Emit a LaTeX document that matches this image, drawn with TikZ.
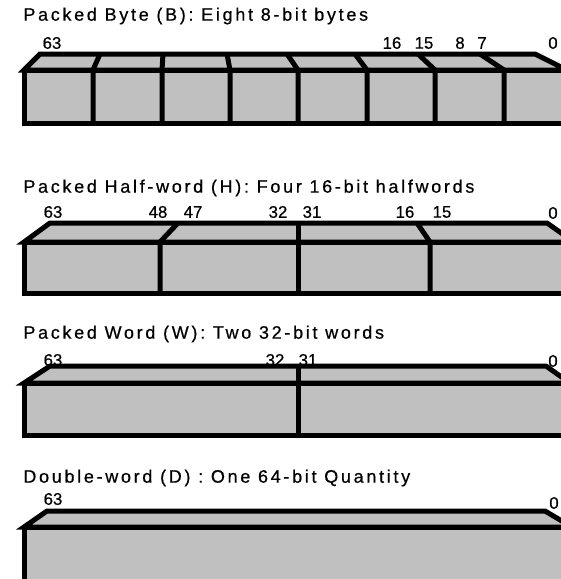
\documentclass[tikz,border=0pt]{standalone}
\usepackage{fontspec}
\setmainfont{Liberation Sans}
\newfontfamily\spacedfont[LetterSpace=15,FakeBold=0.6]{Liberation Sans}
\newfontfamily\digitfont[FakeBold=0.5]{Liberation Sans}
\definecolor{facegray}{RGB}{192,192,192}

\begin{document}
\begin{tikzpicture}[
    x=0.5pt, y=-0.5pt,
    title/.style={anchor=west, inner sep=0pt, font=\spacedfont\fontsize{9}{10}\selectfont},
    bitno/.style={inner sep=0pt, font=\digitfont\fontsize{8.4}{9.6}\selectfont},
    face/.style={draw=black, fill=facegray, line width=2.5pt},
    divider/.style={draw=black, line width=2.5pt}
]

% ----------------- 0. 画布 -----------------
\useasboundingbox (0,0) rectangle (561,579);
\clip (0,0) rectangle (561,579);

% ----------------- 1. Packed Byte -----------------
\node[title] (tB) at (23,16) {Packed Byte (B): Eight 8-bit bytes};
\node[bitno] (b63) at (52,43) {63};
\node[bitno] (b16) at (392,43) {16};
\node[bitno] (b15) at (424,43) {15};
\node[bitno] (b8)  at (460,43) {8};
\node[bitno] (b7)  at (482,43) {7};
\node[bitno] (b0)  at (553,43) {0};

\draw[face] (24,70) -- (40,54) -- (535,54) -- (567,70) -- cycle;
\draw[face] (24,70) rectangle (567,123);
\draw[divider] (100,54) -- (93,70) -- (93,123);
\draw[divider] (163,54) -- (162,70) -- (162,123);
\draw[divider] (227,54) -- (230,70) -- (230,123);
\draw[divider] (287,54) -- (298,70) -- (298,123);
\draw[divider] (355,54) -- (367,70) -- (367,123);
\draw[divider] (418,54) -- (435,70) -- (435,123);
\draw[divider] (480,54) -- (504,70) -- (504,123);

% ----------------- 2. Packed Half-word -----------------
\node[title] (tH) at (23,188) {Packed Half-word (H): Four 16-bit halfwords};
\node[bitno] (h63) at (53,212) {63};
\node[bitno] (h48) at (158,212) {48};
\node[bitno] (h47) at (193,212) {47};
\node[bitno] (h32) at (278,212) {32};
\node[bitno] (h31) at (312,212) {31};
\node[bitno] (h16) at (405,212) {16};
\node[bitno] (h15) at (442,212) {15};
\node[bitno] (h0)  at (553,213) {0};

\draw[face] (24,242) -- (50,223) -- (547,223) -- (574,242) -- cycle;
\draw[face] (24,242) rectangle (574,293);
\draw[divider] (178,223) -- (160,242) -- (160,293);
\draw[divider] (298,223) -- (298,242) -- (298,293);
\draw[divider] (417,223) -- (430,242) -- (430,293);

% ----------------- 3. Packed Word -----------------
\node[title] (tW) at (23,334) {Packed Word (W): Two 32-bit words};
\node[bitno] (w63) at (53,360) {63};
\node[bitno] (w32) at (275,360) {32};
\node[bitno] (w31) at (308,360) {31};
\node[bitno] (w0)  at (553,361) {0};

\draw[face] (24,383) -- (50,366) -- (546,366) -- (570,383) -- cycle;
\draw[face] (24,383) rectangle (570,435);
\draw[divider] (298,366) -- (298,383) -- (298,435);

% ----------------- 4. Double-word -----------------
\node[title] (tD) at (23,478) {Double-word (D) : One 64-bit Quantity};
\node[bitno] (d63) at (53,499) {63};
\node[bitno] (d0)  at (554,503) {0};

\draw[face] (24,527) -- (47,511) -- (545,511) -- (572,527) -- cycle;
\draw[face] (24,527) rectangle (572,590);

\end{tikzpicture}
\end{document}
